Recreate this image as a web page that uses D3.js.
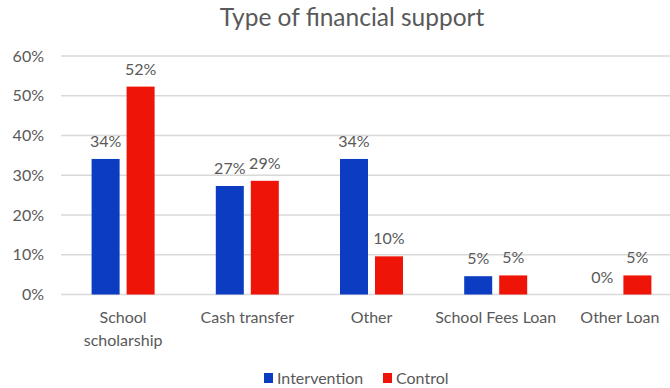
<!DOCTYPE html>
<html>
<head>
<meta charset="utf-8">
<script src="https://cdn.jsdelivr.net/npm/d3@7"></script>
<style>
  html, body { margin: 0; padding: 0; background: #fff; }
  svg { display: block; font-family: Lato, "Open Sans", sans-serif; }
</style>
</head>
<body>
<svg id="chart" width="670" height="388"></svg>
<script>
// Categories and series (percent of respondents)
const categories = [["School", "scholarship"], ["Cash transfer"], ["Other"], ["School Fees Loan"], ["Other Loan"]];
const categoryKeys = ["School scholarship", "Cash transfer", "Other", "School Fees Loan", "Other Loan"];
const intervention = [34.1, 27.3, 34.1, 4.6, 0];
const control = [52.3, 28.6, 9.6, 4.8, 4.8];
const seriesNames = ["Intervention", "Control"];
const seriesColors = ["#0B3CC1", "#EE1508"];
const yTicks = [0, 10, 20, 30, 40, 50, 60];

const svg = d3.select("#chart");
const textColor = "#595959";
const fs = 16;

const x = d3.scaleBand().domain(categoryKeys).range([61, 682]);
const y = d3.scaleLinear().domain([0, 60]).range([294.5, 56]);
const barW = 28, gap = 7;
const inner = d3.scaleBand().domain(seriesNames).range([0, barW * 2 + gap]).paddingInner(gap / (barW + gap));

// Title
svg.append("text").attr("x", 352).attr("y", 26).attr("text-anchor", "middle")
  .attr("font-size", 24.5).attr("fill", textColor).text("Type of financial support");

// Gridlines
svg.append("g").selectAll("line").data(yTicks).join("line")
  .attr("x1", 61).attr("x2", 682)
  .attr("y1", d => y(d)).attr("y2", d => y(d))
  .attr("stroke", "#d9d9d9").attr("stroke-width", 1.3);

// Y axis labels
const yAxis = d3.axisLeft(y).tickValues(yTicks).tickFormat(d => d + "%").tickSize(0).tickPadding(0);
const gy = svg.append("g").attr("transform", "translate(44,0)").call(yAxis);
gy.select(".domain").remove();
gy.selectAll("text").attr("font-size", fs).attr("fill", textColor).attr("font-family", "Lato, sans-serif");

// Bars
const rows = categoryKeys.map((c, i) => ({ c, vals: [intervention[i], control[i]] }));
const groups = svg.append("g").selectAll("g").data(rows).join("g")
  .attr("transform", d => `translate(${x(d.c) + (x.bandwidth() - (barW * 2 + gap)) / 2},0)`);

groups.selectAll("rect").data(d => d.vals.map((v, k) => ({ v, k })).filter(e => e.v > 0)).join("rect")
  .attr("x", e => inner(seriesNames[e.k]))
  .attr("width", inner.bandwidth())
  .attr("y", e => y(e.v))
  .attr("height", e => y(0) - y(e.v))
  .attr("fill", e => seriesColors[e.k]);

// Value labels
groups.selectAll("text.val").data(d => d.vals.map((v, k) => ({ v, k }))).join("text")
  .attr("class", "val")
  .attr("x", e => inner(seriesNames[e.k]) + inner.bandwidth() / 2)
  .attr("y", e => y(e.v) - 12)
  .attr("text-anchor", "middle").attr("font-size", fs).attr("fill", textColor)
  .text(e => Math.round(e.v) + "%");

// Category labels
const cat = svg.append("g").selectAll("text").data(categories).join("text")
  .attr("x", (d, i) => x(categoryKeys[i]) + x.bandwidth() / 2)
  .attr("y", 323).attr("text-anchor", "middle").attr("font-size", fs).attr("fill", textColor);
cat.selectAll("tspan").data(d => d).join("tspan")
  .attr("x", function () { return this.parentNode.getAttribute("x"); })
  .attr("dy", (d, i) => i === 0 ? 0 : 23)
  .text(d => d);

// Legend
const legend = svg.append("g");
const legendItems = [{ name: "Intervention", x: 264 }, { name: "Control", x: 383 }];
legendItems.forEach((it, i) => {
  legend.append("rect").attr("x", it.x).attr("y", 373).attr("width", 9).attr("height", 10).attr("fill", seriesColors[i]);
  legend.append("text").attr("x", it.x + 13).attr("y", 383.5).attr("font-size", fs).attr("fill", textColor).text(it.name);
});
</script>
</body>
</html>
